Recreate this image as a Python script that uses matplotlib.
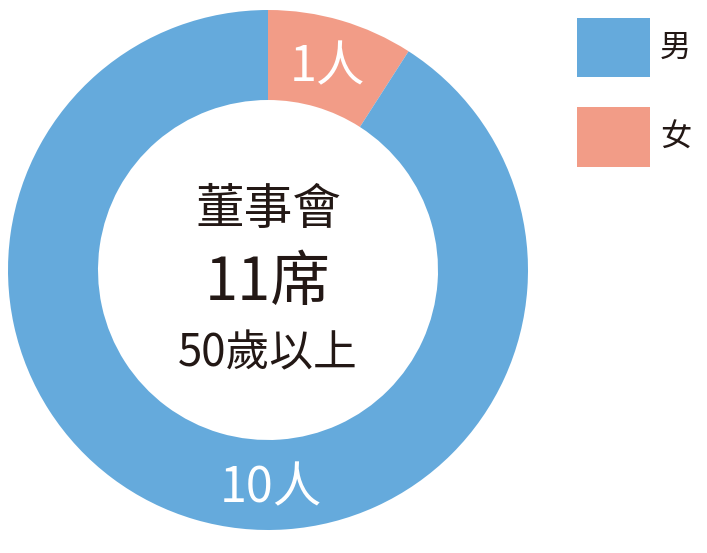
import matplotlib
matplotlib.use("Agg")
import matplotlib.pyplot as plt
from matplotlib.patches import Patch

plt.rcParams['font.family'] = ['Noto Sans CJK TC', 'DejaVu Sans']

# 資料
categories = ['女', '男']
counts = [1, 10]
slice_labels = ['1人', '10人']
legend_order = ['男', '女']
center_lines = ['董事會', '11席', '50歲以上']

color_map = {'男': '#65AADC', '女': '#F29C87'}
text_color = '#231815'

fig = plt.figure(figsize=(7.07, 5.53), dpi=100)
W, H = 707, 553
# 圓心約 (268, 270)，外半徑 260 px
ax = fig.add_axes([8 / W, (H - 530) / H, 520 / W, 520 / H])

wedges, _ = ax.pie(counts, colors=[color_map[c] for c in categories],
                   startangle=90, counterclock=False, radius=1,
                   wedgeprops=dict(width=90 / 260, linewidth=0))
ax.set_xlim(-1, 1)
ax.set_ylim(-1, 1)
ax.set_aspect('equal')
ax.axis('off')

# 扇形標籤
ax.text(0.228, 0.78, slice_labels[0], color='white', fontsize=35,
        ha='center', va='center')
ax.text(0.012, -0.84, slice_labels[1], color='white', fontsize=35,
        ha='center', va='center')

# 中央文字
ax.text(0.0, 0.228, center_lines[0], color=text_color, fontsize=35,
        ha='center', va='center')
ax.text(0.0, -0.05, center_lines[1], color=text_color, fontsize=43,
        ha='center', va='center')
ax.text(0.0, -0.32, center_lines[2], color=text_color, fontsize=31.5,
        ha='center', va='center')

# 圖例
fs = 22.5
px = fs * 100 / 72
handles = [Patch(facecolor=color_map[c], edgecolor='none', label=c) for c in legend_order]
fig.legend(handles=handles, loc='upper left',
           bbox_to_anchor=(577 / W, 1 - 18 / H), frameon=False,
           fontsize=fs, labelcolor=text_color, borderpad=0, borderaxespad=0,
           handlelength=73 / px, handleheight=2.55,
           labelspacing=30 / px, handletextpad=10 / px)

fig.savefig('out.png', dpi=100)
